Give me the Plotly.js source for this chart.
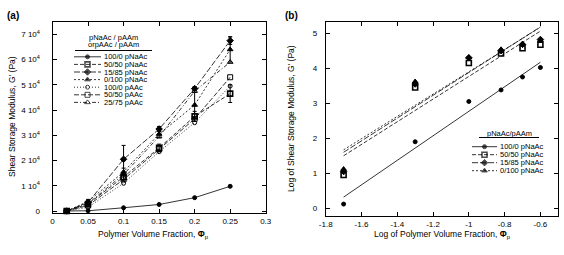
<!DOCTYPE html>
<html>
<head>
<meta charset="utf-8">
<script src="https://cdn.plot.ly/plotly-3.0.1.min.js"></script>
<style>html,body{margin:0;padding:0;background:#fff;}#chart{width:564px;height:255px;}</style>
</head>
<body>
<div id="chart"></div>
<script>
// ---------- data: panel (a) ----------
const phi = [0.02, 0.05, 0.1, 0.15, 0.2, 0.25];
const pNaAc_100_0 = [20, 100, 1300, 2600, 5300, 9800];
const pNaAc_50_50 = [10, 2800, 13500, 25000, 37500, 46500];
const pNaAc_15_85 = [15, 3400, 20500, 32500, 48500, 67500];
const pNaAc_0_100 = [15, 3800, 15500, 30500, 42000, 64000];
const pAAc_100_0 = [5, 1500, 11000, 23500, 35000, 49500];
const pAAc_50_50 = [10, 2200, 12500, 24500, 36500, 53000];
const pAAc_25_75 = [12, 3000, 14500, 29500, 47500, 59000];
const err_50_50 = [0, 500, 1500, 1500, 2000, 3500];
const err_15_85 = [0, 500, 5500, 1000, 800, 1500];
const err_0_100 = [0, 800, 1500, 1500, 5000, 5000];
const aNames = ["100/0 pNaAc", "50/50 pNaAc", "15/85 pNaAc", "0/100 pNaAc", "100/0 pAAc", "50/50 pAAc", "25/75 pAAc"];
const aTickVals = [0, 0.05, 0.1, 0.15, 0.2, 0.25, 0.3];
const aTickText = ["0", "0.05", "0.1", "0.15", "0.2", "0.25", "0.3"];
const aYTickVals = [0, 10000, 20000, 30000, 40000, 50000, 60000, 70000];
const aYTickText = ["0", "1 10<sup>4</sup>", "2 10<sup>4</sup>", "3 10<sup>4</sup>", "4 10<sup>4</sup>", "5 10<sup>4</sup>", "6 10<sup>4</sup>", "7 10<sup>4</sup>"];

// ---------- data: panel (b) ----------
const logPhi = [-1.7, -1.3, -1, -0.82, -0.7, -0.6];
const logG_100_0 = [0.12, 1.9, 3.05, 3.38, 3.75, 4.02];
const logG_50_50 = [0.95, 3.45, 4.15, 4.42, 4.57, 4.67];
const logG_15_85 = [1.05, 3.55, 4.3, 4.5, 4.68, 4.82];
const logG_0_100 = [1.12, 3.62, 4.31, 4.54, 4.7, 4.8];
const fitX = [-1.7, -0.6];
const fit_100_0 = [0.32, 4.17];
const fit_50_50 = [1.50, 5.06];
const fit_15_85 = [1.60, 5.18];
const fit_0_100 = [1.67, 5.17];
const bNames = ["100/0 pNaAc", "50/50 pNaAc", "15/85 pNaAc", "0/100 pNaAc"];
const bTickVals = [-1.8, -1.6, -1.4, -1.2, -1, -0.8, -0.6];
const bTickText = ["-1.8", "-1.6", "-1.4", "-1.2", "-1", "-0.8", "-0.6"];
const bYTickVals = [0, 1, 2, 3, 4, 5];

// ---------- styles ----------
const FONT = "Liberation Sans, Arial, sans-serif";
const K = "#000";
const aStyles = [
  {dash: "solid", sym: "circle", size: 4},
  {dash: "4px,2px", sym: "square-open", size: 5, lw: 1.6},
  {dash: "6px,2px", sym: "diamond", size: 5},
  {dash: "2px,2px", sym: "triangle-up", size: 5},
  {dash: "1px,2px", sym: "circle-open", size: 4},
  {dash: "5px,2px", sym: "square-open", size: 5},
  {dash: "4px,2px,1px,2px", sym: "triangle-up-open", size: 5}
];
const aData = [pNaAc_100_0, pNaAc_50_50, pNaAc_15_85, pNaAc_0_100, pAAc_100_0, pAAc_50_50, pAAc_25_75];
const aErr = [null, err_50_50, err_15_85, err_0_100, null, null, null];

const bStyles = [
  {dash: "solid", sym: "circle", size: 4},
  {dash: "4px,2px", sym: "square-open", size: 5, lw: 1.6},
  {dash: "6px,2px", sym: "diamond", size: 5},
  {dash: "2px,2px", sym: "triangle-up", size: 5}
];
const bData = [logG_100_0, logG_50_50, logG_15_85, logG_0_100];
const bFits = [fit_100_0, fit_50_50, fit_15_85, fit_0_100];

const traces = [];
aData.forEach((ys, i) => {
  const s = aStyles[i];
  const t = {
    x: phi, y: ys, xaxis: "x", yaxis: "y", type: "scatter", mode: "lines+markers",
    showlegend: false, name: aNames[i], cliponaxis: false,
    line: {color: K, width: 0.8, dash: s.dash},
    marker: {symbol: s.sym, size: s.size, color: K, line: {color: K, width: s.lw || 1}}
  };
  if (aErr[i]) t.error_y = {type: "data", array: aErr[i], visible: true, color: K, thickness: 1, width: 2};
  traces.push(t);
});
bData.forEach((ys, i) => {
  const s = bStyles[i];
  traces.push({
    x: logPhi, y: ys, xaxis: "x2", yaxis: "y2", type: "scatter", mode: "markers",
    showlegend: false, name: bNames[i],
    marker: {symbol: s.sym, size: s.size, color: K, line: {color: K, width: s.lw || 1}}
  });
  traces.push({
    x: fitX, y: bFits[i], xaxis: "x2", yaxis: "y2", type: "scatter", mode: "lines",
    showlegend: false, name: bNames[i] + " fit",
    line: {color: K, width: 0.8, dash: s.dash}
  });
});

// ---------- manual legends (pixel coordinates on overlay axis) ----------
const annotations = [];
const shapes = [];
function legendBlock(names, styles, lx0, lx1, tx, y0, dy) {
  names.forEach((n, i) => {
    const yy = y0 + i * dy;
    const s = styles[i];
    traces.push({
      x: [lx0, (lx0 + lx1) / 2, lx1], y: [yy, yy, yy], xaxis: "x3", yaxis: "y3",
      type: "scatter", mode: "lines+markers", showlegend: false, hoverinfo: "skip", cliponaxis: false,
      line: {color: K, width: 0.8, dash: s.dash},
      marker: {symbol: s.sym, size: [0, s.size, 0], color: K, line: {color: K, width: s.lw || 1}}
    });
    annotations.push({xref: "x3", yref: "y3", x: tx, y: yy, text: n, showarrow: false, borderpad: 0,
      xanchor: "left", yanchor: "middle", font: {family: FONT, size: 7.5, color: K}});
  });
}
legendBlock(aNames, aStyles, 74, 101, 103, 56.8, 7.6);
legendBlock(bNames, bStyles, 472, 497, 499, 146.7, 8);

annotations.push(
  {xref: "x3", yref: "y3", x: 113, y: 37, text: "pNaAc / pAAm", showarrow: false, borderpad: 0, font: {family: FONT, size: 7.5, color: K}},
  {xref: "x3", yref: "y3", x: 113, y: 44, text: "orpAAc / pAAm", showarrow: false, borderpad: 0, font: {family: FONT, size: 7.5, color: K}},
  {xref: "x3", yref: "y3", x: 509, y: 133, text: "pNaAc/pAAm", showarrow: false, borderpad: 0, font: {family: FONT, size: 7.5, color: K}},
  {xref: "x3", yref: "y3", x: 13, y: 15, text: "<b>(a)</b>", showarrow: false, font: {family: FONT, size: 10, color: K}},
  {xref: "x3", yref: "y3", x: 291, y: 15, text: "<b>(b)</b>", showarrow: false, font: {family: FONT, size: 10, color: K}},
  {xref: "x3", yref: "y3", x: 12, y: 117, text: "Shear Storage Modulus, G' (Pa)", textangle: -90, showarrow: false, font: {family: FONT, size: 8.5, color: K}},
  {xref: "x3", yref: "y3", x: 291, y: 119, text: "Log of Shear Storage Modulus, G' (Pa)", textangle: -90, showarrow: false, font: {family: FONT, size: 8.5, color: K}},
  {xref: "x3", yref: "y3", x: 153, y: 234, text: "Polymer Volume Fraction, <b>Φ</b><sub>p</sub>", showarrow: false, font: {family: FONT, size: 8.5, color: K}},
  {xref: "x3", yref: "y3", x: 442, y: 234, text: "Log of Polymer Volume Fraction, <b>Φ</b><sub>p</sub>", showarrow: false, font: {family: FONT, size: 8.5, color: K}}
);
shapes.push(
  {type: "line", xref: "x3", yref: "y3", x0: 75, x1: 152, y0: 50.5, y1: 50.5, line: {color: K, width: 1}},
  {type: "line", xref: "x3", yref: "y3", x0: 479, x1: 539, y0: 137.5, y1: 137.5, line: {color: K, width: 1}}
);

const axBase = {
  showline: true, linecolor: K, linewidth: 1, mirror: "ticks", ticks: "inside", ticklen: 4,
  tickcolor: K, tickwidth: 1, showgrid: false, zeroline: false, fixedrange: true,
  tickfont: {family: FONT, size: 8, color: K}, tickmode: "array"
};

const layout = {
  width: 564, height: 255, margin: {l: 0, r: 0, t: 0, b: 0},
  paper_bgcolor: "#fff", plot_bgcolor: "rgba(0,0,0,0)", showlegend: false,
  xaxis: Object.assign({}, axBase, {domain: [0.0931, 0.4711], range: [0, 0.3], anchor: "y", tickvals: aTickVals, ticktext: aTickText}),
  yaxis: Object.assign({}, axBase, {domain: [0.1635, 0.9149], range: [-900, 75000], anchor: "x", tickvals: aYTickVals, ticktext: aYTickText, ticklabelstandoff: 10}),
  xaxis2: Object.assign({}, axBase, {domain: [0.5775, 0.9899], range: [-1.8, -0.5], anchor: "y2", tickvals: bTickVals, ticktext: bTickText}),
  yaxis2: Object.assign({}, axBase, {domain: [0.1529, 0.9137], range: [-0.22, 5.32], anchor: "x2", tickvals: bYTickVals, ticktext: bYTickVals.map(String), ticklabelstandoff: 6}),
  xaxis3: {domain: [0, 1], range: [0, 564], visible: false, fixedrange: true, anchor: "y3"},
  yaxis3: {domain: [0, 1], range: [255, 0], visible: false, fixedrange: true, anchor: "x3"},
  annotations: annotations, shapes: shapes
};

Plotly.newPlot("chart", traces, layout, {staticPlot: true, displayModeBar: false});
</script>
</body>
</html>
